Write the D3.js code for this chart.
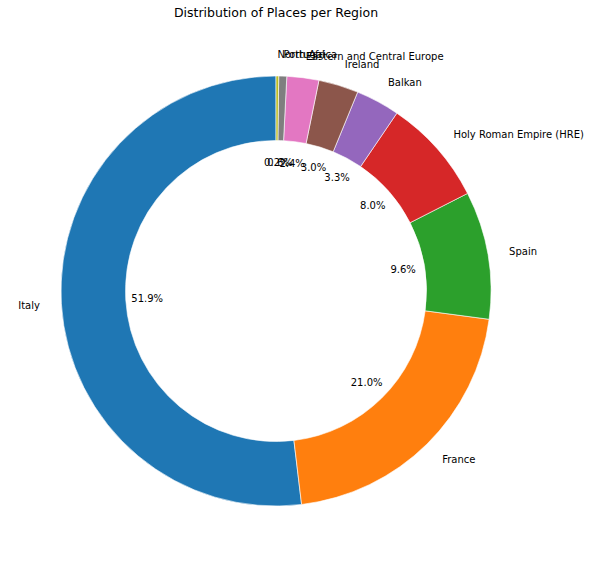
<!DOCTYPE html><html><head><script src="https://d3js.org/d3.v7.min.js"></script>
<style>body{margin:0;background:#fff}text{font-family:"DejaVu Sans",sans-serif}</style></head><body>
<script>
const regions=["Italy","France","Spain","Holy Roman Empire (HRE)","Balkan","Ireland","Eastern and Central Europe","Portugal","North Africa"];
const shares=[51.9,21.0,9.6,8.0,3.3,3.0,2.4,0.6,0.2];
const colors=["#1f77b4","#ff7f0e","#2ca02c","#d62728","#9467bd","#8c564b","#e377c2","#7f7f7f","#bcbd22"];
const W=590,H=568,cx=276,cy=291,R=215;
const svg=d3.select("body").append("svg").attr("width",W).attr("height",H);
svg.append("text").attr("x",276).attr("y",17).attr("text-anchor","middle").attr("font-size",12.5).text("Distribution of Places per Region");
const total=d3.sum(shares);
const ang=d3.scaleLinear().domain([0,total]).range([0,2*Math.PI]);
// matplotlib: start at 90deg, counterclockwise -> d3 angle (clockwise from top) negative
const data=[];let acc=0;
shares.forEach((v,i)=>{data.push({i,v,start:-ang(acc+v),end:-ang(acc)});acc+=v;});
const g=svg.append("g").attr("transform",`translate(${cx},${cy})`);
const arc=d3.arc().innerRadius(R*0.7).outerRadius(R);
g.selectAll("path").data(data).join("path").attr("d",d=>arc({startAngle:d.start,endAngle:d.end})).attr("fill",d=>colors[d.i]).attr("stroke","#fff").attr("stroke-width",0.6);
data.forEach(d=>{
  const a=(d.start+d.end)/2;const x=Math.sin(a),y=-Math.cos(a);
  g.append("text").attr("x",x*R*1.1).attr("y",y*R*1.1).attr("dy","0.35em").attr("font-size",10)
   .attr("text-anchor",x>=0?"start":"end").text(regions[d.i]);
  g.append("text").attr("x",x*R*0.6).attr("y",y*R*0.6).attr("dy","0.35em").attr("font-size",10)
   .attr("text-anchor","middle").text(d.v.toFixed(1)+"%");
});
</script></body></html>
